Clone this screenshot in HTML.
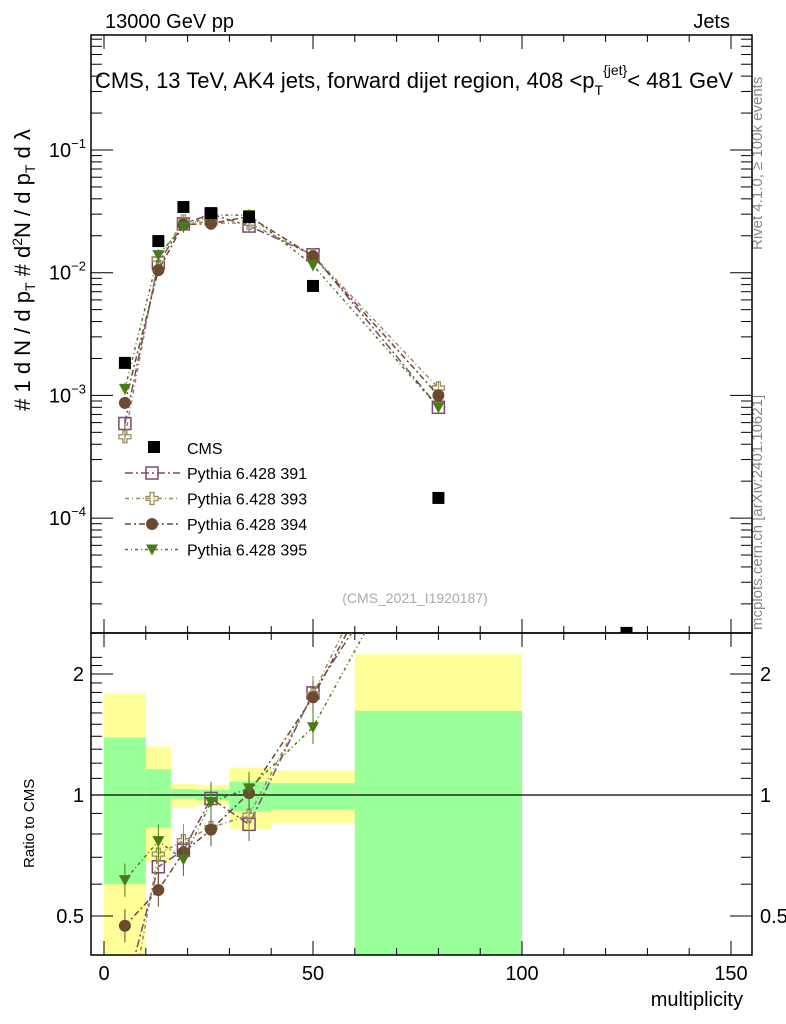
<!DOCTYPE html>
<html><head><meta charset="utf-8"><style>
html,body{margin:0;background:#fff;width:786px;height:1024px;overflow:hidden;}
svg{display:block;font-family:"Liberation Sans",sans-serif;}
</style></head><body>
<svg id="c" width="786" height="1024" xmlns="http://www.w3.org/2000/svg">
<text x="105" y="28" font-size="20">13000 GeV pp</text>
<text x="730" y="28" font-size="20" text-anchor="end">Jets</text>
<text x="414" y="88" font-size="22" text-anchor="middle">CMS, 13 TeV, AK4 jets, forward dijet region, 408 &lt;p<tspan font-size="14" dy="7">T</tspan><tspan font-size="14" dy="-20">{jet}</tspan><tspan dy="13">&lt; 481 GeV</tspan></text>
<g transform="translate(30,270) rotate(-90)">
<text x="0" y="0" font-size="22" text-anchor="middle">#   1   d N / d p<tspan font-size="14" dy="5">T</tspan><tspan dy="-5"> #   d</tspan><tspan font-size="14" dy="-8">2</tspan><tspan dy="8">N / d p</tspan><tspan font-size="14" dy="5">T</tspan><tspan dy="-5"> d λ</tspan></text>
</g>
<text transform="translate(762,250) rotate(-90)" font-size="15" fill="#888">Rivet 4.1.0, ≥ 100k events</text>
<text transform="translate(762,630) rotate(-90)" font-size="15" fill="#888">mcplots.cern.ch [arXiv:2401.10621]</text>
<text x="415" y="603" font-size="14" fill="#aaa" text-anchor="middle">(CMS_2021_I1920187)</text>
<text transform="translate(34,868) rotate(-90)" font-size="15">Ratio to CMS</text>
<text x="743" y="1006" font-size="20" text-anchor="end">multiplicity</text>
<g id="g"></g>
</svg>
<script>
const xCenters=[5,13,19,25.6,34.7,50,80,125];
const cmsVals=[1.84e-3,0.0181,0.0343,0.0306,0.0284,0.0078,1.46e-4,1.16e-5];
const p391=[5.9e-4,0.0120,0.025,0.030,0.024,0.0140,8.0e-4];
const p393=[4.6e-4,0.0129,0.0264,0.0254,0.0253,0.0139,1.15e-3];
const p394=[8.7e-4,0.0105,0.0247,0.0251,0.0287,0.01365,1.0e-3];
const p395=[1.13e-3,0.0139,0.0237,0.0294,0.0295,0.0115,8.0e-4];
const binEdges=[0,10,16,22,30,40,60,100];
const yellowHi=[1.79,1.32,1.065,1.06,1.17,1.15,2.24];
const greenHi=[1.39,1.16,1.035,1.03,1.08,1.07,1.62];
const greenLo=[0.60,0.83,0.98,0.97,0.91,0.92,0.2];
const yellowLo=[0.2,0.68,0.93,0.945,0.82,0.85,0.2];
const xTicks=[0,50,100,150];
const yTicksMain=[-1,-2,-3,-4];
const rTicks=[0.5,1,2];

const L=91,R=752,T=35,M=633,B=955;
const X=v=>104+v*4.18;
const Y=v=>150-(Math.log10(v)+1)*122.7;
const RY=v=>795-121*Math.log2(v);
const NS="http://www.w3.org/2000/svg";
const g=document.getElementById('g');
function mk(t,a,p){const e=document.createElementNS(NS,t);for(const k in a)e.setAttribute(k,a[k]);(p||g).appendChild(e);return e;}
const defs=mk('defs',{});
const c1=mk('clipPath',{id:'cm'},defs);mk('rect',{x:L,y:T,width:R-L,height:M-T},c1);
const c2=mk('clipPath',{id:'cr'},defs);mk('rect',{x:L,y:M,width:R-L,height:B-M},c2);
const gb=mk('g',{'clip-path':'url(#cr)'});


for(let i=0;i<yellowHi.length;i++){
 const x0=X(binEdges[i]),w=X(binEdges[i+1])-x0;
 let r=mk('rect',{x:x0,y:RY(yellowHi[i]),width:w,height:RY(yellowLo[i])-RY(yellowHi[i]),fill:'#ffff99'},gb);
 
 
 r=mk('rect',{x:x0,y:RY(greenHi[i]),width:w,height:RY(greenLo[i])-RY(greenHi[i]),fill:'#99ff99'},gb);
 
 
}
mk('line',{x1:L,x2:R,y1:RY(1),y2:RY(1),stroke:'#000','stroke-width':1.2});
mk('rect',{x:L,y:T,width:R-L,height:M-T,fill:'none',stroke:'#000','stroke-width':1.5});
mk('rect',{x:L,y:M,width:R-L,height:B-M,fill:'none',stroke:'#000','stroke-width':1.5});
for(let v=0;v<=150;v+=10){const maj=v%50==0;const x=X(v);
 for(const [a,b] of [[T,1],[M,-1],[M,1],[B,-1]]){mk('line',{x1:x,x2:x,y1:a,y2:a+b*(maj?14:7),stroke:'#000'});}
}
xTicks.forEach(v=>{const t=mk('text',{x:X(v),y:980,'font-size':20,'text-anchor':'middle'});t.textContent=v;
 
 });
for(let d=-5;d<=-1;d++)for(let m=1;m<10;m++){const v=m*Math.pow(10,d);const y=Y(v);if(y<T||y>M)continue;
 const len=m==1?22:11;mk('line',{x1:L,x2:L+len,y1:y,y2:y,stroke:'#000'});mk('line',{x1:R,x2:R-len,y1:y,y2:y,stroke:'#000'});}
yTicksMain.forEach(d=>{const t=mk('text',{x:86,y:Y(Math.pow(10,d))+7,'font-size':20,'text-anchor':'end'});
 t.innerHTML='10<tspan font-size="13" dy="-9">−'+(-d)+'</tspan>';
 
 });
[0.4,0.5,0.6,0.7,0.8,0.9,1,1.1,1.2,1.3,1.4,1.5,1.6,1.7,1.8,1.9,2,2.1,2.2].forEach(v=>{const y=RY(v);if(y<M||y>B)return;
 const len=(v==0.5||v==1||v==2)?22:11;mk('line',{x1:L,x2:L+len,y1:y,y2:y,stroke:'#000'});mk('line',{x1:R,x2:R-len,y1:y,y2:y,stroke:'#000'});});
rTicks.forEach(v=>{for(const [x,a] of [[84,'end'],[760,'start']]){const t=mk('text',{x:x,y:RY(v)+7,'font-size':20,'text-anchor':a});t.textContent=v;
 
 }});
const series=[[p391,'#7a4a6a','sq','8,3,2,3'],[p393,'#9c8c5c','cross','4,3,1,3'],[p394,'#6b4a30','circ','6,3,2,3'],[p395,'#4a7a1a','tri','3,3,1,3']];
function marker(kind,x,y,col,p){
 if(kind=='sq')return mk('rect',{x:x-6,y:y-6,width:12,height:12,fill:'none',stroke:col,'stroke-width':1.5},p);
 if(kind=='cross')return mk('path',{d:`M${x-2} ${y-6}h4v4h4v4h-4v4h-4v-4h-4v-4h4z`,fill:'none',stroke:col,'stroke-width':1.3},p);
 if(kind=='circ')return mk('circle',{cx:x,cy:y,r:6,fill:col},p);
 return mk('path',{d:`M${x-6} ${y-5}h12l-6 11z`,fill:col},p);
}
const gm=mk('g',{'clip-path':'url(#cm)'}),gr=mk('g',{'clip-path':'url(#cr)'});
series.forEach(([vals,col,kind,dash],si)=>{
 const pm=vals.map((v,i)=>X(xCenters[i])+','+Y(v)).join(' ');
 let pl=mk('polyline',{points:pm,fill:'none',stroke:col,'stroke-width':1.5,'stroke-dasharray':dash},gm);
 
 
 const pr=vals.map((v,i)=>X(xCenters[i])+','+RY(v/cmsVals[i])).join(' ');
 pl=mk('polyline',{points:pr,fill:'none',stroke:col,'stroke-width':1.5,'stroke-dasharray':dash},gr);
 
 
 vals.forEach((v,i)=>{const x=X(xCenters[i]);
  mk('line',{x1:x,x2:x,y1:Y(v*1.12),y2:Y(v/1.12),stroke:col},gm);
  let m=marker(kind,x,Y(v),col,gm);
  
  
  const r=v/cmsVals[i];
  mk('line',{x1:x,x2:x,y1:RY(r*1.1),y2:RY(r/1.1),stroke:col},gr);
  m=marker(kind,x,RY(r),col,gr);
  
  
 });
});
cmsVals.forEach((v,i)=>{const r=mk('rect',{x:X(xCenters[i])-6,y:Y(v)-6,width:12,height:12,fill:'#000'},gm);
 
 });
const names=['Pythia 6.428 391','Pythia 6.428 393','Pythia 6.428 394','Pythia 6.428 395'];
let lg=mk('g',{});


mk('rect',{x:148,y:441,width:12,height:12,fill:'#000'},lg);
let t=mk('text',{x:187,y:454,'font-size':16},lg);t.textContent='CMS';
series.forEach(([vals,col,kind,dash],i)=>{const y=473+i*25.5;
 mk('line',{x1:125,x2:180,y1:y,y2:y,stroke:col,'stroke-width':1.5,'stroke-dasharray':dash},lg);
 marker(kind,152,y,col,lg);
 const tt=mk('text',{x:187,y:y+6,'font-size':16},lg);tt.textContent=names[i];
 
 
});
</script>
</body></html>
